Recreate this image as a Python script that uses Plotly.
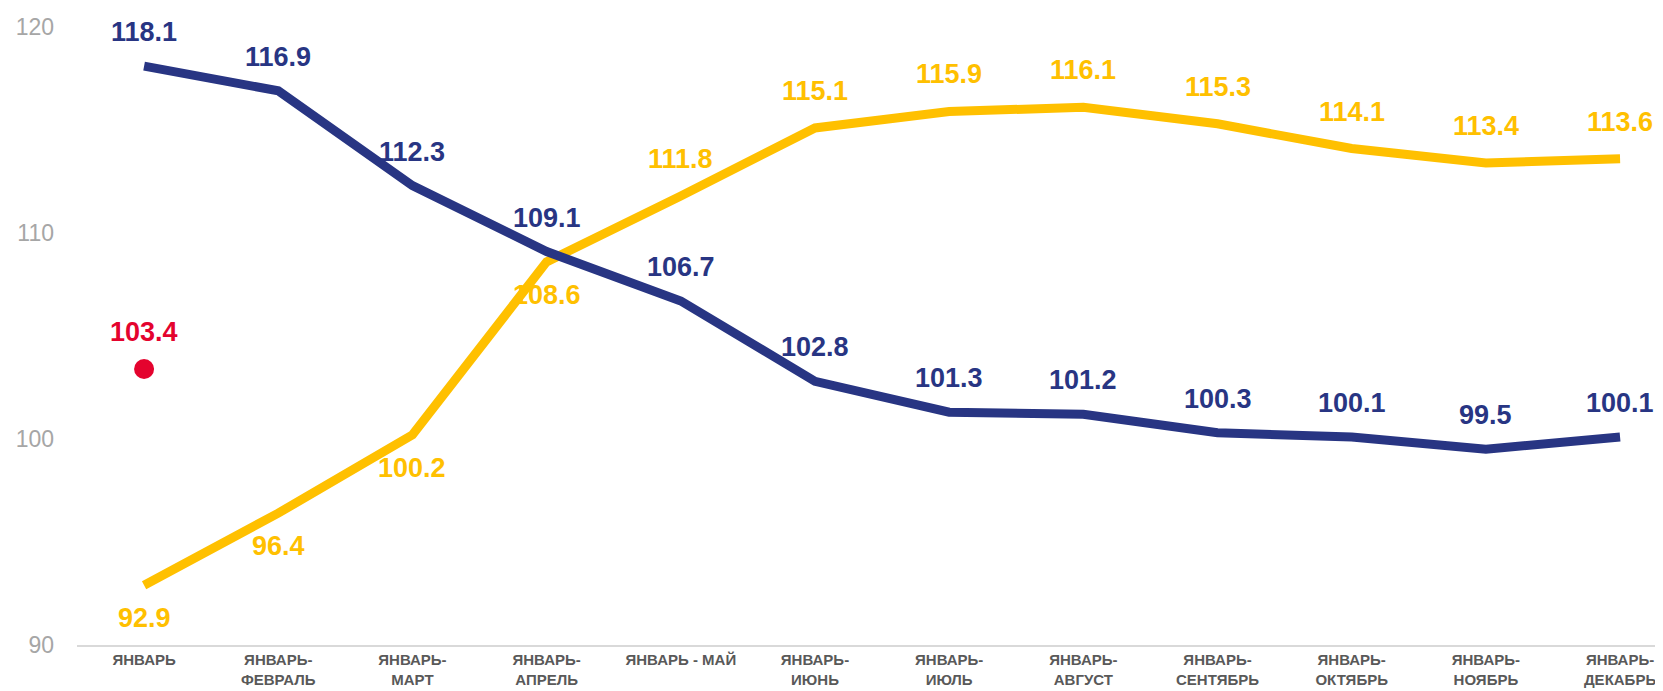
import plotly.graph_objects as go

categories = ["ЯНВАРЬ", "ЯНВАРЬ-<br>ФЕВРАЛЬ", "ЯНВАРЬ-<br>МАРТ", "ЯНВАРЬ-<br>АПРЕЛЬ", "ЯНВАРЬ - МАЙ",
              "ЯНВАРЬ-<br>ИЮНЬ", "ЯНВАРЬ-<br>ИЮЛЬ", "ЯНВАРЬ-<br>АВГУСТ", "ЯНВАРЬ-<br>СЕНТЯБРЬ",
              "ЯНВАРЬ-<br>ОКТЯБРЬ", "ЯНВАРЬ-<br>НОЯБРЬ", "ЯНВАРЬ-<br>ДЕКАБРЬ"]
blue_values = [118.1, 116.9, 112.3, 109.1, 106.7, 102.8, 101.3, 101.2, 100.3, 100.1, 99.5, 100.1]
yellow_values = [92.9, 96.4, 100.2, 108.6, 111.8, 115.1, 115.9, 116.1, 115.3, 114.1, 113.4, 113.6]
red_values = [103.4]
y_ticks = [90, 100, 110, 120]

BLUE = "#283583"
YELLOW = "#FFC000"
RED = "#E4032E"
FONT = "Liberation Sans, Arial, sans-serif"

x = list(range(len(categories)))

fig = go.Figure()
fig.add_trace(go.Scatter(x=x, y=yellow_values, mode="lines",
                         line=dict(color=YELLOW, width=9), hoverinfo="skip"))
fig.add_trace(go.Scatter(x=x, y=blue_values, mode="lines",
                         line=dict(color=BLUE, width=9), hoverinfo="skip"))
fig.add_trace(go.Scatter(x=x[:len(red_values)], y=red_values, mode="markers",
                         marker=dict(color=RED, size=20), hoverinfo="skip"))

annotations = []
lab_font = dict(family=FONT, size=27, weight="bold")
for i, v in enumerate(blue_values):
    annotations.append(dict(x=i, y=v, text=f"{v:.1f}", showarrow=False, yanchor="middle",
                            yshift=34, font=dict(lab_font, color=BLUE)))
for i, v in enumerate(yellow_values):
    below = v < blue_values[i]
    annotations.append(dict(x=i, y=v, text=f"{v:.1f}", showarrow=False, yanchor="middle",
                            yshift=-33 if below else 37, font=dict(lab_font, color=YELLOW)))
for i, v in enumerate(red_values):
    annotations.append(dict(x=i, y=v, text=f"{v:.1f}", showarrow=False, yanchor="middle",
                            yshift=37, font=dict(lab_font, color=RED)))

fig.update_layout(
    width=1655, height=683,
    margin=dict(l=69, r=0, t=19, b=46),
    paper_bgcolor="white", plot_bgcolor="white",
    showlegend=False,
    annotations=annotations,
    xaxis=dict(range=[-0.5, 11.32], tickvals=x, ticktext=categories,
               showgrid=False, zeroline=False, showline=True, linecolor="#D9D9D9", linewidth=2,
               ticks="", tickfont=dict(family=FONT, size=15, color="#595959", weight="bold")),
    yaxis=dict(range=[90, 120], tickvals=y_ticks, showgrid=False, zeroline=False,
               showline=False, ticks="", ticklabelstandoff=22,
               tickfont=dict(family=FONT, size=23, color="#A6A6A6")),
)

fig.write_html("out.html")
